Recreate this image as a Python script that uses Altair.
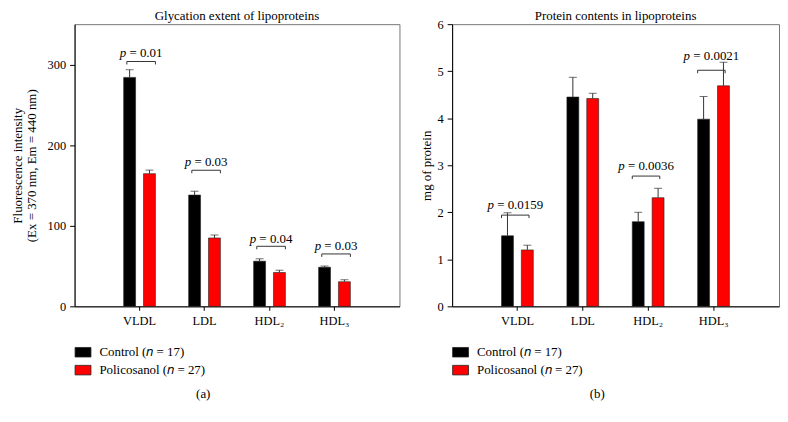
import altair as alt
import pandas as pd

FONT = "Liberation Serif"

cats = ["VLDL", "LDL", "HDL₂", "HDL₃"]
groups = ["Control (𝑛 = 17)", "Policosanol (𝑛 = 27)"]
colors = ["#000000", "#ff0000"]

glyc_control = [284.0, 138.0, 56.0, 48.5]
glyc_control_err = [9.5, 4.8, 3.0, 1.5]
glyc_poli = [164.6, 84.8, 42.0, 30.5]
glyc_poli_err = [4.4, 3.7, 2.8, 2.5]

prot_control = [1.50, 4.45, 1.80, 3.98]
prot_control_err = [0.49, 0.42, 0.20, 0.48]
prot_poli = [1.20, 4.42, 2.31, 4.69]
prot_poli_err = [0.10, 0.11, 0.20, 0.50]

glyc_p_cats = ["VLDL", "LDL", "HDL₂", "HDL₃"]
glyc_p = ["0.01", "0.03", "0.04", "0.03"]
glyc_bracket = [303.7, 168.8, 74.5, 65.0]
glyc_label = [309.9, 174.4, 78.2, 70.0]

prot_p_cats = ["VLDL", "HDL₂", "HDL₃"]
prot_p = ["0.0159", "0.0036", "0.0021"]
prot_bracket = [1.94, 2.77, 5.02]
prot_label = [2.07, 2.89, 5.23]


def bar_table(ctrl, ctrl_err, poli, poli_err):
    rows = []
    for i, c in enumerate(cats):
        rows.append({"cat": c, "group": groups[0], "value": ctrl[i], "top": ctrl[i] + ctrl_err[i]})
        rows.append({"cat": c, "group": groups[1], "value": poli[i], "top": poli[i] + poli_err[i]})
    return pd.DataFrame(rows)


def ann_table(pc, pv, br, lb):
    return pd.DataFrame({"cat": pc, "rest": ["= " + v for v in pv], "bracket": br, "label": lb})


def panel(bars, ann, ydomain, yvalues, ytitle, ytitle_pad, title, sub, subx, w,
          bstart, bend, pdx, restdx):
    xscale = alt.Scale(domain=cats, paddingInner=0.511, paddingOuter=0.7555)
    oscale = alt.Scale(domain=groups, paddingInner=0.4, paddingOuter=0)
    yscale = alt.Scale(domain=ydomain, nice=False, zero=True)
    x_main = alt.X("cat:N", sort=cats, scale=xscale,
                   axis=alt.Axis(title=sub, labelAngle=0, tickSize=4, labelPadding=4,
                                 titleX=subx, titleY=88.2, titleAlign="center",
                                 titleBaseline="middle", titleAngle=0))
    xo = alt.XOffset("group:N", sort=groups, scale=oscale)
    y_main = alt.Y("value:Q", scale=yscale,
                   axis=alt.Axis(values=yvalues, title=ytitle, titlePadding=ytitle_pad,
                                 titleLineHeight=14, tickSize=5, labelPadding=4))
    color = alt.Color("group:N", sort=groups, scale=alt.Scale(domain=groups, range=colors),
                      legend=alt.Legend(title=None, orient="none", legendX=0, legendY=321.7,
                                        direction="vertical",
                                        symbolType="M-1,-0.6H1V0.6H-1Z", symbolSize=256,
                                        symbolStrokeColor="#222", symbolStrokeWidth=0.8,
                                        labelFont=FONT, labelFontSize=13, labelOffset=8,
                                        rowPadding=2, padding=0, labelColor="#000",
                                        labelLimit=300))
    base = alt.Chart(bars)
    bar = base.mark_bar(stroke="#222", strokeWidth=0.6).encode(
        x=x_main, xOffset=xo, y=y_main, color=color)
    whisker = base.mark_rule(color="#333", strokeWidth=1).encode(
        x=alt.X("cat:N", sort=cats), xOffset=alt.XOffset("group:N", sort=groups),
        y="value:Q", y2="top:Q")
    cap = base.mark_tick(color="#333", size=8, thickness=1).encode(
        x=alt.X("cat:N", sort=cats), xOffset=alt.XOffset("group:N", sort=groups),
        y="top:Q")

    ab = alt.Chart(ann)
    hline = ab.mark_rule(color="#333", strokeWidth=1).encode(
        x=alt.X("cat:N", sort=cats, bandPosition=bstart),
        x2=alt.X2("cat", bandPosition=bend),
        y="bracket:Q")
    lend = ab.mark_rule(color="#333", strokeWidth=1, y2Offset=3).encode(
        x=alt.X("cat:N", sort=cats, bandPosition=bstart), y="bracket:Q", y2="bracket:Q")
    rend = ab.mark_rule(color="#333", strokeWidth=1, y2Offset=3).encode(
        x=alt.X("cat:N", sort=cats, bandPosition=bend), y="bracket:Q", y2="bracket:Q")
    bc = (bstart + bend) / 2
    ptxt = ab.mark_text(text="p", font=FONT, fontStyle="italic", fontSize=13, align="left",
                        baseline="alphabetic", dx=pdx, color="#000").encode(
        x=alt.X("cat:N", sort=cats, bandPosition=bc), y="label:Q")
    rtxt = ab.mark_text(font=FONT, fontSize=13, align="left", baseline="alphabetic",
                        dx=restdx, color="#000").encode(
        x=alt.X("cat:N", sort=cats, bandPosition=bc), y="label:Q", text="rest:N")

    ttl = alt.Chart(pd.DataFrame({"t": [title]})).mark_text(
        font=FONT, fontSize=13, align="center", baseline="middle", color="#000").encode(
        x=alt.value(w / 2), y=alt.value(-8.5), text="t:N")

    return alt.layer(bar, whisker, cap, hline, lend, rend, ptxt, rtxt, ttl).properties(
        width=w, height=284)


left = panel(bar_table(glyc_control, glyc_control_err, glyc_poli, glyc_poli_err),
             ann_table(glyc_p_cats, glyc_p, glyc_bracket, glyc_label),
             [0, 350], [0, 100, 200, 300],
             ["Fluorescence intensity", "(Ex = 370 nm, Em = 440 nm)"], 9,
             "Glycation extent of lipoproteins", "(a)", 129, 327,
             0.1, 1.0, -21.5, -11.8)

right = panel(bar_table(prot_control, prot_control_err, prot_poli, prot_poli_err),
              ann_table(prot_p_cats, prot_p, prot_bracket, prot_label),
              [0, 6], [0, 1, 2, 3, 4, 5, 6],
              "mg of protein", 4,
              "Protein contents in lipoproteins", "(b)", 145.5, 329,
              0.0, 0.86, -28.0, -18.25)

chart = alt.hconcat(left, right, spacing=19).resolve_legend(color="independent").properties(
    padding={"left": 2, "top": 0, "right": 0, "bottom": 0}
).configure_view(stroke="#777", strokeWidth=1).configure_axis(
    labelFont=FONT, titleFont=FONT, labelFontSize=12.5, titleFontSize=13,
    titleFontWeight="normal", domainColor="#000", tickColor="#000", labelColor="#000",
    titleColor="#000", grid=False
)

chart.save("out.html", embed_options={"renderer": "svg", "actions": False})
